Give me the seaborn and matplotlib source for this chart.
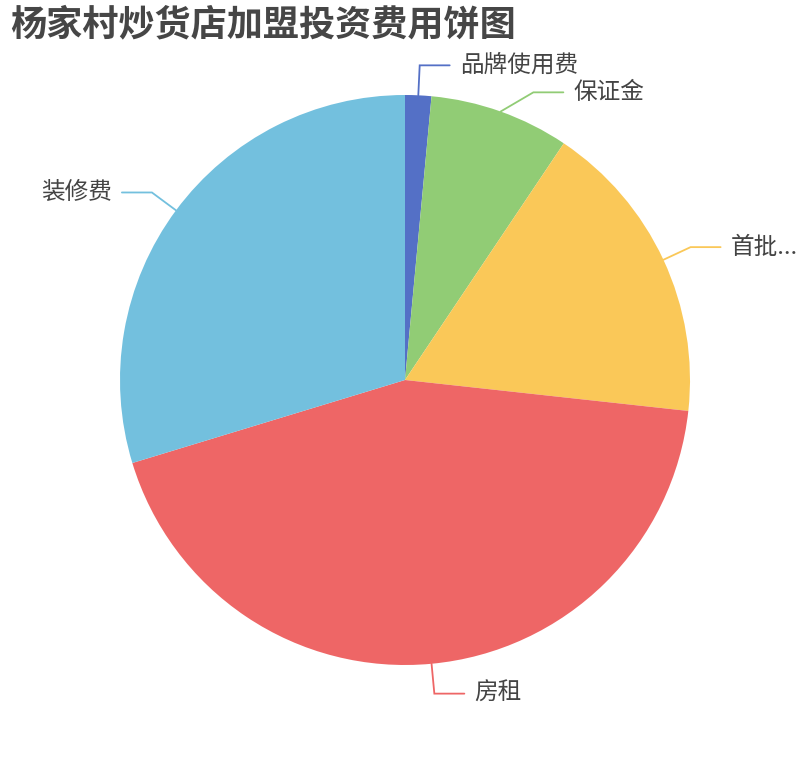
import matplotlib.pyplot as plt
import numpy as np
import seaborn as sns

# Investment breakdown (万元)
categories = ['品牌使用费', '保证金', '首批进货费', '房租', '装修费']
display_labels = ['品牌使用费', '保证金', '首批...', '房租', '装修费']
values = [0.3, 1.6, 3.5, 8.8, 6.0]
colors = ['#5470c6', '#91cc75', '#fac858', '#ee6666', '#73c0de']
title = '杨家村炒货店加盟投资费用饼图'

sns.set_theme(style='white')
plt.rcParams['font.family'] = ['Noto Sans CJK SC', 'DejaVu Sans']

W, H = 810, 760
cx, cy, R = 405, 380, 285

fig = plt.figure(figsize=(W / 100, H / 100), dpi=100)
ax = fig.add_axes([0, 0, 1, 1])
wedges, _ = ax.pie(values, colors=colors, startangle=90, counterclock=False,
                   center=(cx, cy), radius=R, wedgeprops=dict(linewidth=0))
ax.set_xlim(0, W)
ax.set_ylim(0, H)
ax.set_aspect('equal')
ax.axis('off')

# leader lines + labels, nudging right-side labels apart like echarts does
len1, len2, gap, min_sep = 30, 30, 10, 27
R1 = R + len1
items = []
for w, lab, col in zip(wedges, display_labels, colors):
    mid = np.deg2rad((w.theta1 + w.theta2) / 2)
    dx, dy = np.cos(mid), np.sin(mid)
    p0 = (cx + R * dx, cy + R * dy)
    p1 = [cx + R1 * dx, cy + R1 * dy]
    items.append(dict(p0=p0, p1=p1, side=1 if dx >= 0 else -1, lab=lab, col=col))

for side in (1, -1):
    grp = sorted([it for it in items if it['side'] == side], key=lambda it: -it['p1'][1])
    for prev, cur in zip(grp, grp[1:]):
        if prev['p1'][1] - cur['p1'][1] < min_sep:
            cur['p1'][1] = prev['p1'][1] - min_sep
            off = cur['p1'][1] - cy
            cur['p1'][0] = cx + side * np.sqrt(max(R1 ** 2 - off ** 2, 0))

for it in items:
    p0, p1, s = it['p0'], it['p1'], it['side']
    p2 = (p1[0] + s * len2, p1[1])
    ax.plot([p0[0], p1[0], p2[0]], [p0[1], p1[1], p2[1]], color=it['col'], lw=1.3,
            solid_joinstyle='miter')
    ax.text(p2[0] + s * gap, p2[1], it['lab'], ha='left' if s > 0 else 'right',
            va='center', fontsize=17, color='#444444')

ax.text(10, H - 25, title, ha='left', va='center', fontsize=26,
        fontweight='bold', color='#464646')

fig.savefig('out.png', dpi=100)
